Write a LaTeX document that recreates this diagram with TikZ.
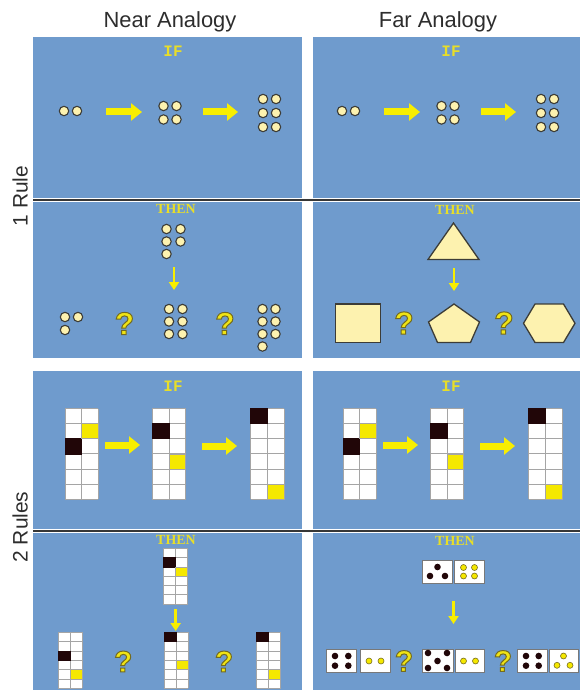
\documentclass[tikz,border=0pt]{standalone}
\usepackage{fontspec}
\setmainfont{Liberation Sans}
\newfontfamily\monobf{Liberation Mono}
\newfontfamily\serifbf{Liberation Serif}
\usetikzlibrary{arrows.meta}
\definecolor{panelblue}{RGB}{111,155,205}
\definecolor{arrowyel}{RGB}{248,238,0}
\definecolor{txtyel}{RGB}{232,222,40}
\definecolor{qyel}{RGB}{240,228,20}
\definecolor{dotfill}{RGB}{253,242,175}
\definecolor{dotline}{RGB}{60,60,55}
\definecolor{cellblack}{RGB}{33,6,8}
\definecolor{cellyel}{RGB}{245,232,0}
\definecolor{gridline}{RGB}{165,165,165}
\definecolor{divline}{RGB}{55,55,55}
\definecolor{boxline}{RGB}{120,120,120}
\definecolor{ydotline}{RGB}{120,110,30}
\definecolor{hdrtext}{RGB}{45,45,45}
\newcommand{\qtext}{\special{pdf:literal direct 2 Tr 1 w 0.45 0.42 0.12 RG}?\special{pdf:literal direct 0 Tr}}
\newcommand{\dotset}[1]{\foreach \px/\py in {#1} {\filldraw[dotsty] (\px,\py) circle[radius=4.7bp];}}
\newcommand{\bdots}[1]{\foreach \px/\py in {#1} {\fill[cellblack] (\px,\py) circle[radius=3.3bp];}}
\newcommand{\ydots}[1]{\foreach \px/\py in {#1} {\filldraw[ydot] (\px,\py) circle[radius=3bp];}}
\newcommand{\cellgrid}[8]{%
  \begin{scope}[shift={(#1,#2)}]
    \fill[white] (0,0) rectangle ({2*#3},{6*#4});
    \foreach \gi in {0,...,6} {\draw[gridline, line width=0.8bp] (0,{\gi*#4}) -- ({2*#3},{\gi*#4});}
    \foreach \gj in {0,1,2} {\draw[gridline, line width=0.8bp] ({\gj*#3},0) -- ({\gj*#3},{6*#4});}
    \filldraw[fill=cellblack, draw=cellblack, line width=0.6bp] ({(#6-1)*#3},{(#5-1)*#4}) rectangle ++(#3,#4);
    \filldraw[fill=cellyel, draw=gridline, line width=0.6bp] ({(#8-1)*#3},{(#7-1)*#4}) rectangle ++(#3,#4);
  \end{scope}}
\begin{document}
\begin{tikzpicture}[x=1bp,y=-1bp,
  panel/.style={fill=panelblue},
  divider/.style={draw=divline, line width=2.4bp},
  dotsty/.style={fill=dotfill, draw=dotline, line width=1.1bp},
  fatarrow/.style={draw=arrowyel, line width=7bp, -{Triangle[width=17bp,length=11bp,fill=arrowyel]}},
  thinarrow/.style={draw=arrowyel, line width=2.8bp, -{Triangle[width=10bp,length=8bp,fill=arrowyel]}},
  hdr/.style={font=\fontsize{22}{26}\selectfont, text=hdrtext, inner sep=0, anchor=base},
  side/.style={font=\fontsize{21}{25}\selectfont, text=hdrtext, inner sep=0, anchor=base, rotate=90},
  iflbl/.style={font=\monobf\bfseries\fontsize{16}{18}\selectfont, text=txtyel, inner sep=0},
  thenlbl/.style={font=\serifbf\bfseries\fontsize{14}{16}\selectfont, text=txtyel, inner sep=0},
  qm/.style={font=\bfseries\fontsize{32}{34}\selectfont, text=qyel, inner sep=0},
  qms/.style={font=\bfseries\fontsize{30}{32}\selectfont, text=qyel, inner sep=0},
  shapesty/.style={fill=dotfill, draw=dotline, line width=1.3bp, line join=miter},
  domino/.style={fill=white, draw=boxline, line width=1bp},
  ydot/.style={fill=cellyel, draw=ydotline, line width=0.6bp},
]
\useasboundingbox (0,0) rectangle (580,690);
\fill[white] (0,0) rectangle (580,690);
% panels
\fill[panel] (33,37) rectangle (302,198);
\fill[panel] (313,37) rectangle (580,198);
\fill[panel] (33,202) rectangle (302,358);
\fill[panel] (313,202) rectangle (580,358);
\fill[panel] (33,371) rectangle (302,529);
\fill[panel] (313,371) rectangle (580,529);
\fill[panel] (33,533) rectangle (302,690);
\fill[panel] (313,533) rectangle (580,690);
\coordinate (d1a) at (33,200); \coordinate (d1b) at (580,200);
\coordinate (d2a) at (33,531); \coordinate (d2b) at (580,531);
\draw[divider] (d1a) -- (d1b);
\draw[divider] (d2a) -- (d2b);
% headers
\node[hdr] (hnear) at (170,28) {Near Analogy};
\node[hdr] (hfar) at (438,28) {Far Analogy};
\node[side] (s1) at (27.5,196) {1 Rule};
\node[side] (s2) at (27.5,527) {2 Rules};
% labels
\node[iflbl] (if1l) at (173,51) {IF};
\node[iflbl] (if1r) at (451,51) {IF};
\node[thenlbl] (th1l) at (176,209) {THEN};
\node[thenlbl] (th1r) at (455,210) {THEN};
\node[iflbl] (if2l) at (173,386) {IF};
\node[iflbl] (if2r) at (451,386) {IF};
\node[thenlbl] (th2l) at (176,540) {THEN};
\node[thenlbl] (th2r) at (455,541) {THEN};
% ===== Row A =====
\dotset{64/111,77/111}
\dotset{163.5/106,176.5/106,163.5/119.5,176.5/119.5}
\dotset{263/99,276/99,263/113,276/113,263/127,276/127}
\dotset{342/111,355/111}
\dotset{441.5/106,454.5/106,441.5/119.5,454.5/119.5}
\dotset{541/99,554/99,541/113,554/113,541/127,554/127}
\coordinate (aL1s) at (106,112); \coordinate (aL1e) at (142,112);
\coordinate (aL2s) at (203,112); \coordinate (aL2e) at (238,112);
\coordinate (aR1s) at (384,112); \coordinate (aR1e) at (420,112);
\coordinate (aR2s) at (481,112); \coordinate (aR2e) at (516,112);
\draw[fatarrow] (aL1s) -- (aL1e);
\draw[fatarrow] (aL2s) -- (aL2e);
\draw[fatarrow] (aR1s) -- (aR1e);
\draw[fatarrow] (aR2s) -- (aR2e);
% ===== Row B left =====
\dotset{166.5/229,180.5/229,166.5/241.5,180.5/241.5,166.5/254}
\coordinate (bLs) at (174,267); \coordinate (bLe) at (174,290);
\draw[thinarrow] (bLs) -- (bLe);
\dotset{65/317,78/317,65/330}
\dotset{169/309,182.5/309,169/321.5,182.5/321.5,169/334,182.5/334}
\dotset{262.5/309,275.5/309,262.5/321.5,275.5/321.5,262.5/334,275.5/334,262.5/346.5}
\node[qm] (qB1) at (124.5,323.5) {\qtext};
\node[qm] (qB2) at (225,323.5) {\qtext};
% ===== Row B right =====
\filldraw[shapesty] (453.5,223) -- (479,259.5) -- (428,259.5) -- cycle;
\coordinate (bRs) at (454,268); \coordinate (bRe) at (454,291);
\draw[thinarrow] (bRs) -- (bRe);
\filldraw[shapesty] (335.5,304) rectangle (380.5,342.5);
\filldraw[shapesty] (454,304) -- (479.5,322) -- (470.5,342.5) -- (437.5,342.5) -- (428.5,322) -- cycle;
\filldraw[shapesty] (523.5,323.3) -- (535,304) -- (563.5,304) -- (575,323.3) -- (563.5,342.5) -- (535,342.5) -- cycle;
\node[qm] (qB3) at (404,323) {\qtext};
\node[qm] (qB4) at (504,323) {\qtext};
% ===== Row C =====
\cellgrid{65}{408.5}{16.7}{15.1}{3}{1}{2}{2}
\cellgrid{152.3}{408.5}{16.7}{15.1}{2}{1}{4}{2}
\cellgrid{250.7}{408.5}{16.7}{15.1}{1}{1}{6}{2}
\cellgrid{343}{408.5}{16.7}{15.1}{3}{1}{2}{2}
\cellgrid{430.3}{408.5}{16.7}{15.1}{2}{1}{4}{2}
\cellgrid{528.7}{408.5}{16.7}{15.1}{1}{1}{6}{2}
\coordinate (cL1s) at (105,445); \coordinate (cL1e) at (140,445);
\coordinate (cL2s) at (202,446); \coordinate (cL2e) at (237,446);
\coordinate (cR1s) at (383,445); \coordinate (cR1e) at (418,445);
\coordinate (cR2s) at (480,446); \coordinate (cR2e) at (515,446);
\draw[fatarrow] (cL1s) -- (cL1e);
\draw[fatarrow] (cL2s) -- (cL2e);
\draw[fatarrow] (cR1s) -- (cR1e);
\draw[fatarrow] (cR2s) -- (cR2e);
% ===== Row D left =====
\cellgrid{163.3}{548.3}{12.2}{9.3}{2}{1}{3}{2}
\coordinate (dLs) at (175.7,609); \coordinate (dLe) at (175.7,631);
\draw[thinarrow] (dLs) -- (dLe);
\cellgrid{58.3}{632.3}{12}{9.33}{3}{1}{5}{2}
\cellgrid{164}{632.3}{12}{9.33}{1}{1}{4}{2}
\cellgrid{256.7}{632.3}{12}{9.33}{1}{1}{5}{2}
\node[qms] (qD1) at (123.3,661.5) {\qtext};
\node[qms] (qD2) at (224,661.5) {\qtext};
% ===== Row D right =====
\filldraw[domino] (422.7,560) rectangle (452.3,583.3);
\filldraw[domino] (454.3,560) rectangle (484.3,583.3);
\bdots{437.5/567,430/576,445/576}
\ydots{463.5/567.5,474.5/567.5,463.5/576,474.5/576}
\coordinate (dRs) at (453.5,601); \coordinate (dRe) at (453.5,624);
\draw[thinarrow] (dRs) -- (dRe);
\filldraw[domino] (326.7,649) rectangle (356.7,672.5);
\filldraw[domino] (360.7,649) rectangle (390.7,672.5);
\bdots{335/656,348.3/656,335/665.7,348.3/665.7}
\ydots{369/661,381/661}
\filldraw[domino] (422.7,649) rectangle (453.3,672.5);
\filldraw[domino] (455,649) rectangle (484.5,672.5);
\bdots{428/653,447/653,437.5/661,428/668,447/668}
\ydots{463.5/661,475.5/661}
\filldraw[domino] (517.3,649) rectangle (547.3,672.5);
\filldraw[domino] (549.3,649) rectangle (578.3,672.5);
\bdots{526/656,538.7/656,526/665.7,538.7/665.7}
\ydots{563.5/656,557/665.3,570/665.3}
\node[qms] (qD3) at (404,661) {\qtext};
\node[qms] (qD4) at (503,661) {\qtext};
\end{tikzpicture}
\end{document}
